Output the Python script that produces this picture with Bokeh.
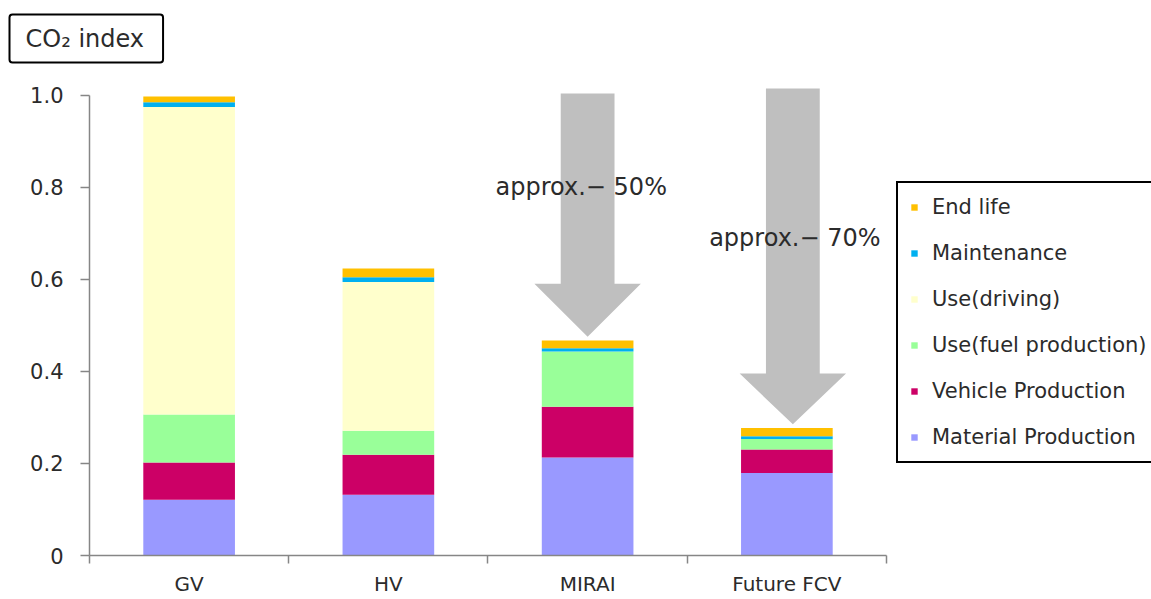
from bokeh.plotting import figure
from bokeh.models import Range1d, FixedTicker, Legend, LegendItem, Title, ColumnDataSource
from bokeh.core.properties import value
from bokeh.embed import file_html
from bokeh.resources import INLINE

# ---- data ----
categories = ["GV", "HV", "MIRAI", "Future FCV"]
material = [0.121, 0.132, 0.213, 0.179]
vehicle = [0.081, 0.087, 0.110, 0.051]
fuel = [0.104, 0.052, 0.120, 0.023]
driving = [0.668, 0.323, 0.0, 0.0]
maintenance = [0.010, 0.010, 0.007, 0.006]
end_life = [0.013, 0.019, 0.017, 0.018]
series_labels = ["Material Production", "Vehicle Production", "Use(fuel production)",
                 "Use(driving)", "Maintenance", "End life"]
y_ticks = [0, 0.2, 0.4, 0.6, 0.8, 1.0]
y_tick_labels = ["0", "0.2", "0.4", "0.6", "0.8", "1.0"]
arrow_labels = ["approx.\u2212 50%", "approx.\u2212 70%"]
arrow_targets = [2, 3]  # MIRAI, Future FCV

FONT = "DejaVu Sans"
TXT = "#2b2b2b"
AXIS = "#868686"

x_pos = [i + 0.5 for i in range(len(categories))]
keys = ["material", "vehicle", "fuel", "driving", "maintenance", "end_life"]
colors = ["#9999FF", "#CC0066", "#99FF99", "#FFFFCC", "#00B0F0", "#FFC000"]
src = ColumnDataSource(dict(x=x_pos, material=material, vehicle=vehicle, fuel=fuel,
                            driving=driving, maintenance=maintenance, end_life=end_life))

FRAME_TOP = 70
p = figure(width=1151, height=599, output_backend="svg", toolbar_location=None,
           x_range=Range1d(0, 5.330), y_range=Range1d(0, (555 - FRAME_TOP) / 460.5),
           min_border_left=89, min_border_right=0, min_border_top=FRAME_TOP, min_border_bottom=44)
p.outline_line_color = None
p.xgrid.visible = False
p.ygrid.visible = False
p.background_fill_color = "white"

renderers = p.vbar_stack(keys, x="x", width=0.46, fill_color=colors, line_color=None, source=src)

# arrows
totals = [sum(v) for v in zip(material, vehicle, fuel, driving, maintenance, end_life)]
arrow_dx = [0.0, 0.03]
arrow_top = [1.003, 1.014]
arrow_head = [0.115, 0.11]
shaft_hw, head_hw = 0.135, 0.267
axs, ays = [], []
for k, c in enumerate(arrow_targets):
    xc = x_pos[c] + arrow_dx[k]
    tip = totals[c] + 0.008
    hb = tip + arrow_head[k]
    axs.append([xc - shaft_hw, xc + shaft_hw, xc + shaft_hw, xc + head_hw, xc, xc - head_hw, xc - shaft_hw])
    ays.append([arrow_top[k], arrow_top[k], hb, hb, tip, hb, hb])
p.patches(axs, ays, fill_color="#BFBFBF", line_color=None)

text_dx = [-0.462, -0.42]
text_y = [0.80, 0.69]
p.text(x=[x_pos[c] + arrow_dx[k] + text_dx[k] for k, c in enumerate(arrow_targets)], y=text_y,
       text=arrow_labels, text_font=value(FONT), text_font_size="24px", text_color=TXT,
       text_align="left", text_baseline="middle")

# axes
ya = p.yaxis[0]
ya.ticker = FixedTicker(ticks=y_ticks, minor_ticks=[])
ya.major_label_overrides = {t: l for t, l in zip(y_ticks, y_tick_labels)}
ya.bounds = (0, 1.0)
ya.axis_line_color = AXIS
ya.axis_line_width = 1.5
ya.major_tick_line_color = AXIS
ya.major_tick_line_width = 1.5
ya.major_tick_out = 9
ya.major_tick_in = 0
ya.minor_tick_line_color = None
ya.major_label_standoff = 17
ya.major_label_text_font = FONT
ya.major_label_text_font_size = "21px"
ya.major_label_text_color = TXT

xa = p.xaxis[0]
xa.ticker = FixedTicker(ticks=x_pos, minor_ticks=[0, 1, 2, 3, 4])
xa.major_label_overrides = {x: c for x, c in zip(x_pos, categories)}
xa.bounds = (0, 4)
xa.axis_line_color = AXIS
xa.axis_line_width = 1.5
xa.major_tick_line_color = None
xa.major_tick_out = 0
xa.major_tick_in = 0
xa.minor_tick_line_color = AXIS
xa.minor_tick_line_width = 1.5
xa.minor_tick_out = 8
xa.minor_tick_in = 0
xa.major_label_standoff = 8
xa.major_label_text_font = FONT
xa.major_label_text_font_size = "20px"
xa.major_label_text_color = TXT

# legend
items = [LegendItem(label=l, renderers=[r]) for l, r in zip(series_labels, renderers)][::-1]
legend = Legend(items=items, location=(807, 92), orientation="vertical",
                glyph_width=8, glyph_height=8, label_standoff=14, label_height=24,
                spacing=22, padding=12, margin=0,
                border_line_color="black", border_line_width=2, border_line_alpha=1.0,
                background_fill_color="white", background_fill_alpha=1.0,
                label_text_font=FONT, label_text_font_size="21px", label_text_color=TXT)
p.add_layout(legend)

# boxed chart label
title = Title(text="CO\u2082 index", align="left", offset=-80, standoff=16,
              text_font=FONT, text_font_size="24px", text_font_style="normal", text_color=TXT,
              border_line_color="black", border_line_width=2, border_radius=3,
              background_fill_color="white",
              padding=dict(left=16, right=19, top=10, bottom=10))
p.add_layout(title, "above")

open("out.html", "w").write(file_html(p, INLINE))
